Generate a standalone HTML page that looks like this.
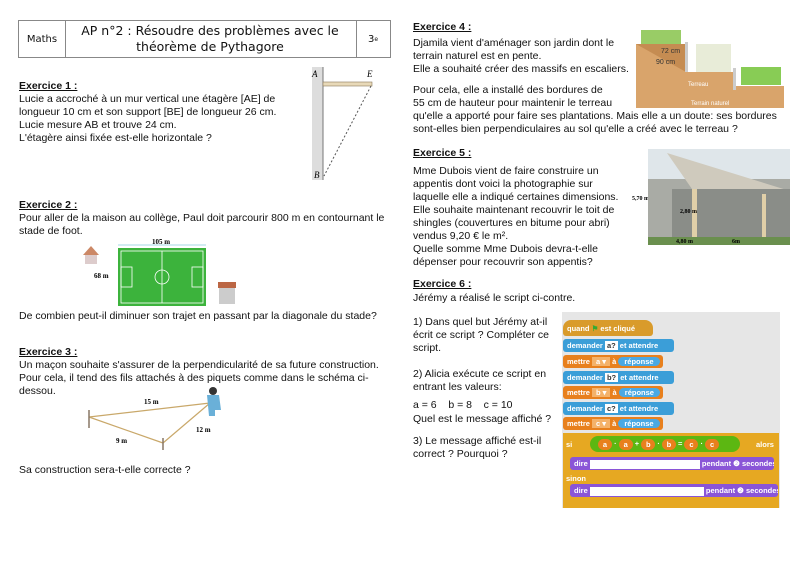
<!DOCTYPE html>
<html><head><meta charset="utf-8"><style>
body{margin:0;width:800px;height:566px;background:#fff;position:relative;overflow:hidden;font-family:"Liberation Sans",sans-serif;font-size:10.5px;color:#111}
.t{position:absolute;white-space:nowrap;line-height:13px}
.h{text-decoration:underline;font-weight:bold}
.cell{position:absolute;border:1px solid #888;display:flex;align-items:center;justify-content:center;text-align:center;font-family:"DejaVu Sans",sans-serif}
.sb{position:absolute;height:13px;border-radius:3px;color:#fff;font-size:7.5px;font-weight:bold;line-height:13px;padding-left:4px;font-family:"Liberation Sans",sans-serif;white-space:nowrap;overflow:hidden}
.bl{background:#3b9ed8}.or{background:#e8801d}.pu{background:#8a55d7}.ye{background:#e6a822}
.in{background:#fff;color:#333;padding:0 2px}
.dd{background:#f4b26a;padding:0 4px}
.rp{background:#4aa9e4;border-radius:6px;padding:0 6px}
.ov{display:inline-block;background:#e8801d;border-radius:6px;width:14px;height:11px;text-align:center;line-height:11px;vertical-align:middle}
</style></head><body>
<div class="cell" style="left:18px;top:20px;width:46px;height:36px;font-size:10px">Maths</div>
<div class="cell" style="left:64px;top:20px;width:292px;height:36px;font-size:12.5px;line-height:16px;border-left:none">AP n°2 : Résoudre des problèmes avec le<br>théorème de Pythagore</div>
<div class="cell" style="left:356px;top:20px;width:34px;height:36px;font-size:10px;border-left:none">3<sup style="font-size:6px">e</sup></div>

<div class="t h" style="left:19px;top:80px">Exercice 1 :</div>
<div class="t" style="left:19px;top:93px">Lucie a accroché à un mur vertical une étagère [AE] de<br>longueur 10 cm et son support [BE] de longueur 26 cm.<br>Lucie mesure AB et trouve 24 cm.<br>L'étagère ainsi fixée est-elle horizontale ?</div>
<svg style="position:absolute;left:308px;top:65px" width="70" height="120">
<rect x="4" y="2" width="11" height="113" fill="#ddd"/><line x1="15" y1="2" x2="15" y2="115" stroke="#777"/>
<rect x="15" y="17" width="49" height="4" fill="#e8d9b8" stroke="#8a7a5a" stroke-width=".6"/>
<line x1="63" y1="21" x2="16" y2="111" stroke="#555" stroke-dasharray="2,2"/>
<text x="4" y="12" font-size="9" font-style="italic" font-family="Liberation Serif">A</text>
<text x="59" y="12" font-size="9" font-style="italic" font-family="Liberation Serif">E</text>
<text x="6" y="113" font-size="9" font-style="italic" font-family="Liberation Serif">B</text>
</svg>

<div class="t h" style="left:19px;top:199px">Exercice 2 :</div>
<div class="t" style="left:19px;top:212px">Pour aller de la maison au collège, Paul doit parcourir 800 m en contournant le<br>stade de foot.</div>
<svg style="position:absolute;left:80px;top:232px" width="160" height="80">
<text x="72" y="12" font-size="7" font-weight="bold" font-family="Liberation Serif">105 m</text>
<line x1="38" y1="13" x2="126" y2="13" stroke="#8cd" stroke-width=".7"/>
<text x="14" y="46" font-size="7" font-weight="bold" font-family="Liberation Serif">68 m</text>
<rect x="38" y="16" width="88" height="58" fill="#3cb33c"/>
<rect x="41" y="19" width="82" height="52" fill="none" stroke="#fff" stroke-width=".8"/>
<line x1="82" y1="19" x2="82" y2="71" stroke="#fff" stroke-width=".8"/>
<circle cx="82" cy="45" r="7" fill="none" stroke="#fff" stroke-width=".8"/>
<rect x="41" y="35" width="11" height="20" fill="none" stroke="#fff" stroke-width=".8"/>
<rect x="112" y="35" width="11" height="20" fill="none" stroke="#fff" stroke-width=".8"/>
<polygon points="3,23 11,14 19,23" fill="#c86"/><rect x="5" y="23" width="12" height="9" fill="#dcc"/>
<rect x="138" y="50" width="18" height="6" fill="#b64"/><rect x="139" y="56" width="16" height="16" fill="#ccc"/>
</svg>
<div class="t" style="left:19px;top:310px">De combien peut-il diminuer son trajet en passant par la diagonale du stade?</div>

<div class="t h" style="left:19px;top:346px">Exercice 3 :</div>
<div class="t" style="left:19px;top:359px">Un maçon souhaite s'assurer de la perpendicularité de sa future construction.<br>Pour cela, il tend des fils attachés à des piquets comme dans le schéma ci-<br>dessou.</div>
<svg style="position:absolute;left:80px;top:380px" width="160" height="70">
<line x1="9" y1="37" x2="130" y2="23" stroke="#c9a86a" stroke-width="1.2"/>
<line x1="9" y1="37" x2="83" y2="63" stroke="#c9a86a" stroke-width="1.2"/>
<line x1="83" y1="63" x2="130" y2="23" stroke="#c9a86a" stroke-width="1.2"/>
<line x1="9" y1="30" x2="9" y2="48" stroke="#876" stroke-width="1.5"/>
<line x1="83" y1="58" x2="83" y2="70" stroke="#876" stroke-width="1.5"/>
<text x="64" y="24" font-size="7" font-weight="bold" font-family="Liberation Serif">15 m</text>
<text x="36" y="63" font-size="7" font-weight="bold" font-family="Liberation Serif">9 m</text>
<text x="116" y="52" font-size="7" font-weight="bold" font-family="Liberation Serif">12 m</text>
<circle cx="133" cy="11" r="4" fill="#333"/><path d="M127 15h12l2 15h-6v6h-6z" fill="#6ab0d8"/>
</svg>
<div class="t" style="left:19px;top:464px">Sa construction sera-t-elle correcte ?</div>

<div class="t h" style="left:413px;top:21px">Exercice 4 :</div>
<div class="t" style="left:413px;top:37px">Djamila vient d'aménager son jardin dont le<br>terrain naturel est en pente.<br>Elle a souhaité créer des massifs en escaliers.</div>
<div class="t" style="left:413px;top:84px">Pour cela, elle a installé des bordures de<br>55 cm de hauteur pour maintenir le terreau<br>qu'elle a apporté pour faire ses plantations. Mais elle a un doute: ses bordures<br>sont-elles bien perpendiculaires au sol qu'elle a créé avec le terreau ?</div>
<svg style="position:absolute;left:636px;top:22px" width="152" height="86">
<rect x="0" y="0" width="152" height="86" fill="#fff"/>
<path d="M0 22h50v28h48v14h50v22H0z" fill="#d9a46b"/>
<path d="M0 22h50v28z" fill="#c58c52"/>
<rect x="5" y="8" width="40" height="14" fill="#9c6"/><rect x="60" y="22" width="35" height="28" fill="#e8ecd8"/><rect x="105" y="45" width="40" height="18" fill="#8c5"/>
<rect x="49" y="20" width="3" height="30" fill="#ccc"/><rect x="97" y="46" width="3" height="22" fill="#ccc"/>
<text x="25" y="31" font-size="7" fill="#333">72 cm</text><text x="20" y="42" font-size="7" fill="#333">90 cm</text>
<text x="52" y="64" font-size="6" fill="#fff">Terreau</text><text x="55" y="83" font-size="6" fill="#fff">Terrain naturel</text>
</svg>

<div class="t h" style="left:413px;top:147px">Exercice 5 :</div>
<div class="t" style="left:413px;top:165px">Mme Dubois vient de faire construire un<br>appentis dont voici la photographie sur<br>laquelle elle a indiqué certaines dimensions.<br>Elle souhaite maintenant recouvrir le toit de<br>shingles (couvertures en bitume pour abri)<br>vendus 9,20 € le m².<br>Quelle somme Mme Dubois devra-t-elle<br>dépenser pour recouvrir son appentis?</div>
<svg style="position:absolute;left:632px;top:149px" width="165" height="96">
<text x="0" y="51" font-size="6" font-weight="bold" font-family="Liberation Serif">5,70 m</text>
<rect x="16" y="0" width="142" height="96" fill="#a9aba5"/>
<rect x="16" y="0" width="142" height="30" fill="#dfe6ea"/>
<polygon points="35,4 158,42 158,55 60,40" fill="#cfcabd"/>
<rect x="40" y="40" width="118" height="50" fill="#8a8d88"/>
<rect x="60" y="40" width="5" height="50" fill="#e0cfa8"/><rect x="130" y="45" width="4" height="45" fill="#e0cfa8"/>
<rect x="16" y="88" width="142" height="8" fill="#6a8f4e"/>
<text x="48" y="64" font-size="6" font-weight="bold" font-family="Liberation Serif">2,80 m</text>
<text x="44" y="94" font-size="6" font-weight="bold" font-family="Liberation Serif">4,80 m</text>
<text x="100" y="94" font-size="6" font-weight="bold" font-family="Liberation Serif">6m</text>
</svg>

<div class="t h" style="left:413px;top:278px">Exercice 6 :</div>
<div class="t" style="left:413px;top:292px">Jérémy a réalisé le script ci-contre.</div>
<div class="t" style="left:413px;top:316px">1) Dans quel but Jérémy at-il<br>écrit ce script ? Compléter ce<br>script.</div>
<div class="t" style="left:413px;top:368px">2) Alicia exécute ce script en<br>entrant les valeurs:</div>
<div class="t" style="left:413px;top:399px">a = 6 &nbsp;&nbsp; b = 8 &nbsp;&nbsp; c = 10</div>
<div class="t" style="left:413px;top:413px">Quel est le message affiché ?</div>
<div class="t" style="left:413px;top:435px">3) Le message affiché est-il<br>correct ? Pourquoi ?</div>

<div style="position:absolute;left:562px;top:312px;width:218px;height:196px;background:#e6e6e6"></div>
<div class="sb ye" style="left:563px;top:320px;width:86px;height:16px;line-height:18px;border-radius:8px 8px 3px 3px;background:#d99b2b">quand <span style="color:#3a3">⚑</span> est cliqué</div>
<div class="sb bl" style="left:563px;top:339px;width:107px">demander <span class="in">a?</span> et attendre</div>
<div class="sb or" style="left:563px;top:355px;width:96px">mettre <span class="dd">a ▾</span> à <span class="rp">réponse</span></div>
<div class="sb bl" style="left:563px;top:371px;width:107px">demander <span class="in">b?</span> et attendre</div>
<div class="sb or" style="left:563px;top:386px;width:96px">mettre <span class="dd">b ▾</span> à <span class="rp">réponse</span></div>
<div class="sb bl" style="left:563px;top:402px;width:107px">demander <span class="in">c?</span> et attendre</div>
<div class="sb or" style="left:563px;top:417px;width:96px">mettre <span class="dd">c ▾</span> à <span class="rp">réponse</span></div>
<div style="position:absolute;left:563px;top:433px;width:216px;height:75px;background:#e6a822"></div>
<div style="position:absolute;left:590px;top:436px;width:150px;height:16px;background:#5cb712;border-radius:8px"></div>
<div class="t" style="left:566px;top:438px;color:#fff;font-size:7.5px;font-weight:bold">si</div>
<div class="t" style="left:598px;top:437px;color:#fff;font-size:7.5px;font-weight:bold;line-height:14px"><span class="ov">a</span> · <span class="ov">a</span> + <span class="ov">b</span> · <span class="ov">b</span> = <span class="ov">c</span> · <span class="ov">c</span></div>
<div class="t" style="left:756px;top:438px;color:#fff;font-size:7.5px;font-weight:bold">alors</div>
<div class="sb pu" style="left:570px;top:457px;width:200px">dire <span style="display:inline-block;width:110px;height:9px;background:#fff;vertical-align:middle"></span> pendant ❷ secondes</div>
<div class="t" style="left:566px;top:472px;color:#fff;font-size:7.5px;font-weight:bold">sinon</div>
<div class="sb pu" style="left:570px;top:484px;width:204px">dire <span style="display:inline-block;width:114px;height:9px;background:#fff;vertical-align:middle"></span> pendant ❷ secondes</div>
</body></html>
